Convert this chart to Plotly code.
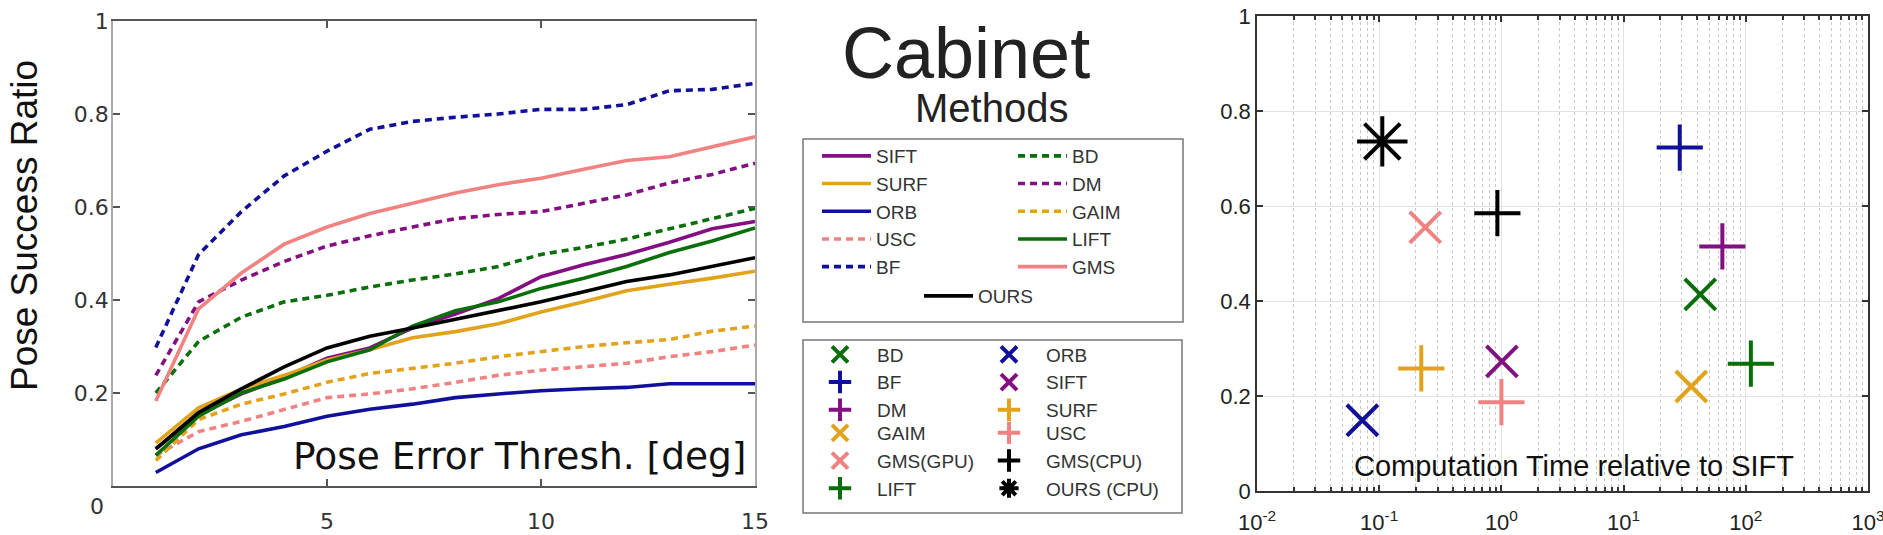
import plotly.graph_objects as go

W, H = 1883, 535

# ---------------- data: pose success vs threshold ----------------
thresh_deg = list(range(1, 16))
SIFT = [0.080, 0.154, 0.198, 0.234, 0.275, 0.297, 0.340, 0.370, 0.403, 0.450, 0.476, 0.498, 0.524, 0.553, 0.569]
SURF = [0.092, 0.168, 0.209, 0.238, 0.271, 0.293, 0.319, 0.332, 0.349, 0.374, 0.396, 0.420, 0.434, 0.447, 0.462]
ORB = [0.029, 0.080, 0.110, 0.128, 0.150, 0.165, 0.176, 0.190, 0.198, 0.205, 0.209, 0.212, 0.220, 0.220, 0.220]
USC = [0.066, 0.117, 0.139, 0.165, 0.190, 0.198, 0.209, 0.223, 0.238, 0.249, 0.256, 0.264, 0.278, 0.289, 0.303]
BF = [0.298, 0.498, 0.590, 0.667, 0.720, 0.767, 0.784, 0.793, 0.800, 0.810, 0.810, 0.820, 0.850, 0.853, 0.866]
BD = [0.200, 0.311, 0.363, 0.396, 0.410, 0.428, 0.443, 0.456, 0.472, 0.498, 0.513, 0.531, 0.553, 0.575, 0.597]
DM = [0.238, 0.396, 0.443, 0.483, 0.516, 0.538, 0.557, 0.575, 0.584, 0.590, 0.608, 0.626, 0.652, 0.670, 0.694]
GAIM = [0.055, 0.143, 0.176, 0.198, 0.223, 0.242, 0.253, 0.264, 0.278, 0.289, 0.300, 0.308, 0.315, 0.333, 0.344]
LIFT = [0.066, 0.150, 0.200, 0.230, 0.267, 0.293, 0.344, 0.377, 0.396, 0.425, 0.447, 0.472, 0.502, 0.527, 0.555]
GMS = [0.183, 0.381, 0.458, 0.520, 0.557, 0.586, 0.608, 0.630, 0.648, 0.662, 0.681, 0.700, 0.708, 0.729, 0.751]
OURS = [0.080, 0.158, 0.209, 0.256, 0.297, 0.322, 0.340, 0.359, 0.377, 0.396, 0.418, 0.440, 0.454, 0.473, 0.491]

x_tick_vals = [5, 10, 15]
x_tick_text = ["5", "10", "15"]
y_tick_vals = [0.2, 0.4, 0.6, 0.8, 1.0]
y_tick_text = ["0.2", "0.4", "0.6", "0.8", "1"]

# ---------------- data: success vs computation time ----------------
methods_t = ["BD", "BF", "DM", "GAIM", "GMS(GPU)", "LIFT",
             "ORB", "SIFT", "SURF", "USC", "GMS(CPU)", "OURS (CPU)"]
time_rel = [42.4, 28.8, 64.3, 35.8, 0.238, 110.0, 0.0728, 1.01, 0.221, 1.0, 0.927, 0.106]
success_t = [0.414, 0.723, 0.515, 0.220, 0.555, 0.268, 0.149, 0.273, 0.258, 0.187, 0.585, 0.736]
log_tick_vals = [0.01, 0.1, 1, 10, 100, 1000]
log_tick_text = ["10<sup>-2</sup>", "10<sup>-1</sup>", "10<sup>0</sup>",
                 "10<sup>1</sup>", "10<sup>2</sup>", "10<sup>3</sup>"]
y2_tick_vals = [0, 0.2, 0.4, 0.6, 0.8, 1.0]
y2_tick_text = ["0", "0.2", "0.4", "0.6", "0.8", "1"]

# ---------------- styles ----------------
PURPLE = "#830f83"
GOLD = "#e2a21c"
NAVY = "#10109a"
SALMON = "#f08282"
GREEN = "#0a6e0a"
BLACK = "#000000"
DOT = "7px,5px"

line_series = [
    ("SIFT", SIFT, PURPLE, "solid", "legend"),
    ("SURF", SURF, GOLD, "solid", "legend"),
    ("ORB", ORB, NAVY, "solid", "legend"),
    ("USC", USC, SALMON, DOT, "legend"),
    ("BF", BF, NAVY, DOT, "legend"),
    ("BD", BD, GREEN, DOT, "legend2"),
    ("DM", DM, PURPLE, DOT, "legend2"),
    ("GAIM", GAIM, GOLD, DOT, "legend2"),
    ("LIFT", LIFT, GREEN, "solid", "legend2"),
    ("GMS", GMS, SALMON, "solid", "legend2"),
    ("OURS", OURS, BLACK, "solid", "legend3"),
]

scatter_style = {
    "BD": (GREEN, "x-thin", "legend4"),
    "BF": (NAVY, "cross-thin", "legend4"),
    "DM": (PURPLE, "cross-thin", "legend4"),
    "GAIM": (GOLD, "x-thin", "legend5"),
    "GMS(GPU)": (SALMON, "x-thin", "legend5"),
    "LIFT": (GREEN, "cross-thin", "legend5"),
    "ORB": (NAVY, "x-thin", "legend6"),
    "SIFT": (PURPLE, "x-thin", "legend6"),
    "SURF": (GOLD, "cross-thin", "legend6"),
    "USC": (SALMON, "cross-thin", "legend7"),
    "GMS(CPU)": (BLACK, "cross-thin", "legend7"),
    "OURS (CPU)": (BLACK, "asterisk", "legend7"),
}
symbol_size = {"x-thin": 31, "cross-thin": 33, "asterisk": 42}


def px_x(p):
    return p / W


def px_y(p):
    return 1 - p / H


fig = go.Figure()

for name, vals, color, dash, lg in line_series:
    fig.add_trace(go.Scatter(
        x=thresh_deg, y=vals, mode="lines", name=name,
        line=dict(color=color, width=3.6, dash=dash),
        xaxis="x", yaxis="y", legend=lg, hoverinfo="skip"))

for name, t, s in zip(methods_t, time_rel, success_t):
    color, sym, lg = scatter_style[name]
    fig.add_trace(go.Scatter(
        x=[t], y=[s], mode="markers", name=name,
        marker=dict(symbol=sym, size=symbol_size[sym], color=color,
                    line=dict(color=color, width=4)),
        xaxis="x2", yaxis="y2", legend=lg, hoverinfo="skip"))

LEFT_FONT = "DejaVu Sans"
RIGHT_FONT = "Liberation Sans, Arial, sans-serif"

minor_vals = [m * 10 ** e for e in range(-2, 3) for m in range(2, 10)]

legend_common = dict(bgcolor="rgba(0,0,0,0)", borderwidth=0, orientation="v",
                     font=dict(family=RIGHT_FONT, size=19, color="#333"),
                     xanchor="left", yanchor="top", traceorder="normal")

LINE_LEG_TOP = 137
MARK_LEG_TOP = 335.5
MARK_LEG_TOP2 = 414

fig.update_layout(
    width=W, height=H, autosize=False,
    margin=dict(l=0, r=0, t=0, b=0, pad=0, autoexpand=False),
    paper_bgcolor="white", plot_bgcolor="white",
    showlegend=True,
    xaxis=dict(domain=[px_x(113), px_x(755)], range=[0, 15],
               tickmode="array", tickvals=x_tick_vals, ticktext=x_tick_text,
               ticks="inside", ticklen=7, tickwidth=1.5, tickcolor="#555",
               showline=True, linecolor="#555", linewidth=1.5, mirror="ticks",
               showgrid=False, zeroline=False, ticklabelstandoff=15,
               automargin=False, ticklabeloverflow="allow",
               tickfont=dict(family=LEFT_FONT, size=22, color="#333"), anchor="y"),
    yaxis=dict(domain=[px_y(486), px_y(21)], range=[0, 1],
               tickmode="array", tickvals=y_tick_vals, ticktext=y_tick_text,
               ticks="inside", ticklen=7, tickwidth=1.5, tickcolor="#555",
               showline=True, linecolor="#aaa", linewidth=1.5, mirror="ticks",
               showgrid=False, zeroline=False, ticklabelstandoff=-2,
               automargin=False,
               tickfont=dict(family=LEFT_FONT, size=22, color="#333"), anchor="x"),
    xaxis2=dict(domain=[px_x(1257), px_x(1868)], type="log", range=[-2, 3],
                tickmode="array", tickvals=log_tick_vals, ticktext=log_tick_text,
                ticks="inside", ticklen=6, tickwidth=1.5, tickcolor="#333",
                showline=True, linecolor="#333", linewidth=1.5, mirror="ticks",
                showgrid=True, gridcolor="#e2e2e2", gridwidth=1, zeroline=False,
                minor=dict(tickmode="array", tickvals=minor_vals, ticks="inside",
                           ticklen=4, tickcolor="#333", showgrid=True,
                           gridcolor="#c8c8c8", griddash="dot", gridwidth=1),
                ticklabelstandoff=11, automargin=False, ticklabeloverflow="allow",
                tickfont=dict(family=RIGHT_FONT, size=22, color="#222"), anchor="y2"),
    yaxis2=dict(domain=[px_y(491), px_y(16)], range=[0, 1],
                tickmode="array", tickvals=y2_tick_vals, ticktext=y2_tick_text,
                ticks="inside", ticklen=6, tickwidth=1.5, tickcolor="#333",
                showline=True, linecolor="#333", linewidth=1.5, mirror="ticks",
                showgrid=True, gridcolor="#e2e2e2", gridwidth=1, zeroline=False,
                ticklabelstandoff=0, automargin=False,
                tickfont=dict(family=RIGHT_FONT, size=22, color="#222"), anchor="x2"),
    legend=dict(legend_common, x=px_x(817), y=px_y(LINE_LEG_TOP), itemwidth=49),
    legend2=dict(legend_common, x=px_x(1013), y=px_y(LINE_LEG_TOP), itemwidth=49),
    legend3=dict(legend_common, x=px_x(919), y=px_y(277), itemwidth=49),
    legend4=dict(legend_common, x=px_x(803), y=px_y(MARK_LEG_TOP), itemwidth=64),
    legend5=dict(legend_common, x=px_x(803), y=px_y(MARK_LEG_TOP2), itemwidth=64),
    legend6=dict(legend_common, x=px_x(972), y=px_y(MARK_LEG_TOP), itemwidth=64),
    legend7=dict(legend_common, x=px_x(972), y=px_y(MARK_LEG_TOP2), itemwidth=64),
    shapes=[
        dict(type="rect", xref="paper", yref="paper",
             x0=px_x(803), x1=px_x(1183), y0=px_y(322), y1=px_y(139),
             line=dict(color="#777", width=1.5), fillcolor="rgba(0,0,0,0)", layer="below"),
        dict(type="rect", xref="paper", yref="paper",
             x0=px_x(803), x1=px_x(1182), y0=px_y(513), y1=px_y(340),
             line=dict(color="#777", width=1.5), fillcolor="rgba(0,0,0,0)", layer="below"),
    ],
    annotations=[
        dict(text="Cabinet", xref="paper", yref="paper", x=px_x(966), y=px_y(53),
             xanchor="center", yanchor="middle", showarrow=False,
             font=dict(family=RIGHT_FONT, size=72, color="#222")),
        dict(text="Methods", xref="paper", yref="paper", x=px_x(991), y=px_y(108),
             xanchor="center", yanchor="middle", showarrow=False,
             font=dict(family=RIGHT_FONT, size=40, color="#222")),
        dict(text="Pose Success Ratio", xref="paper", yref="paper", x=px_x(25), y=px_y(226),
             xanchor="center", yanchor="middle", showarrow=False, textangle=-90,
             font=dict(family=RIGHT_FONT, size=37, color="#111")),
        dict(text="Pose Error Thresh. [deg]", xref="paper", yref="paper", x=px_x(749), y=px_y(456),
             xanchor="right", yanchor="middle", showarrow=False,
             font=dict(family=LEFT_FONT, size=37.5, color="#111")),
        dict(text="0", xref="paper", yref="paper", x=px_x(97), y=px_y(506),
             xanchor="center", yanchor="middle", showarrow=False,
             font=dict(family=LEFT_FONT, size=22, color="#333")),
        dict(text="Computation Time relative to SIFT", xref="paper", yref="paper",
             x=px_x(1574), y=px_y(466), xanchor="center", yanchor="middle", showarrow=False,
             font=dict(family=RIGHT_FONT, size=29, color="#111")),
    ],
)

fig.write_html("out.html",
               config={"displayModeBar": False},
               post_script="document.body.style.margin='0';"
                           "document.body.style.overflow='hidden';")
